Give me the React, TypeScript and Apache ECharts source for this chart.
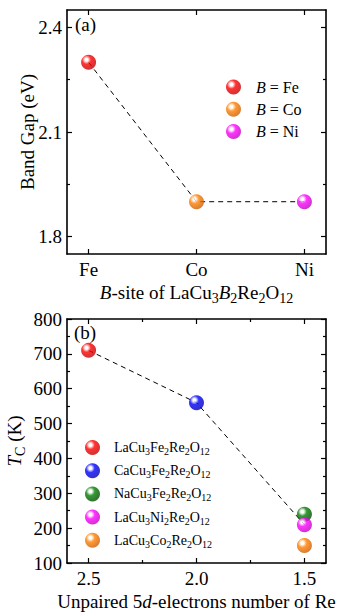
import React, { useEffect, useRef } from "react";
import * as echarts from "echarts";

const catsA = ["Fe", "Co", "Ni"];
const gapA = [2.3, 1.9, 1.9];
const namesA = ["B = Fe", "B = Co", "B = Ni"];
const colorsA = [["#ff0000", "#c00000"], ["#ff8000", "#cc5c00"], ["#ff00ff", "#c000c0"]];
const yTicksA = [1.8, 2.1, 2.4];
const yMinorA = [1.95, 2.25];

const xB = [2.5, 2.0, 1.5, 1.5, 1.5];
const tcB = [710, 560, 240, 210, 150];
const namesB = ["LaCu3Fe2Re2O12", "CaCu3Fe2Re2O12", "NaCu3Fe2Re2O12", "LaCu3Ni2Re2O12", "LaCu3Co2Re2O12"];
const colorsB = [["#ff0000", "#c00000"], ["#0000ff", "#0000b0"], ["#008000", "#004c00"], ["#ff00ff", "#c000c0"], ["#ff8000", "#cc5c00"]];
const lineIdxB = [0, 1, 3];
const xTicksB = [1.5, 2.0, 2.5];
const xMinorB = [1.75, 2.25];

const FONT = "Liberation Serif";

function ball(c: string[]) {
  return new echarts.graphic.RadialGradient(0.36, 0.33, 0.7, [
    { offset: 0, color: "#ffffff" },
    { offset: 0.14, color: "#ffffff" },
    { offset: 0.42, color: c[0] },
    { offset: 1, color: c[1] },
  ]);
}

const rich = (fs: number, lh?: number) => {
  const ss = Math.round(fs * 0.72);
  const sh = Math.round(fs * 0.3);
  return {
    i: { fontStyle: "italic", fontSize: fs, fontFamily: FONT, lineHeight: lh || fs, color: "#000" },
    n: { fontSize: fs, fontFamily: FONT, lineHeight: lh || fs, color: "#000" },
    s: { fontSize: ss, fontFamily: FONT, lineHeight: ss, padding: [sh, 0, -sh, 0], color: "#000" },
  };
};

export default function App() {
  const ref = useRef<HTMLDivElement>(null);
  useEffect(() => {
    document.body.style.margin = "0";
    const chart = echarts.init(ref.current!, null, { renderer: "svg" });
    const axisLine = { show: true, onZero: false, lineStyle: { color: "#000", width: 1.6 } };
    const noLine = { show: false, onZero: false };
    const tickStyle = { color: "#000", width: 1.2 };
    const labelFont = { fontFamily: FONT, fontSize: 19, color: "#000", rich: rich(19) };
    const wrap = (t: string) => `{n|${t}}`;
    const gridA = { left: 67, top: 10, width: 259, height: 244, outerBoundsMode: "none", containLabel: false };
    const gridB = { left: 67, top: 319, width: 259, height: 244, outerBoundsMode: "none", containLabel: false };

    const xAxA = (pos: string, labels: boolean) => ({
      gridIndex: 0, type: "value", min: -0.2, max: 2.2, position: pos,
      axisLine, splitLine: { show: false },
      axisTick: { show: true, inside: true, length: 5, lineStyle: tickStyle, customValues: [0, 1, 2] },
      axisLabel: labels
        ? { show: true, customValues: [0, 1, 2], margin: 6, ...labelFont, formatter: (v: number) => wrap(catsA[Math.round(v)]) }
        : { show: false },
    });
    const xAxB = (pos: string, labels: boolean, minor: boolean) => ({
      gridIndex: 1, type: "value", min: 1.4, max: 2.6, inverse: true, position: pos,
      axisLine: minor ? noLine : axisLine, splitLine: { show: false },
      axisTick: { show: true, inside: true, length: minor ? 3 : 5, lineStyle: tickStyle, customValues: minor ? xMinorB : xTicksB },
      axisLabel: labels
        ? { show: true, customValues: xTicksB, margin: 6, ...labelFont, formatter: (v: number) => wrap(v.toFixed(1)) }
        : { show: false },
    });
    const yAxA = (pos: string, labels: boolean, minor: boolean) => ({
      gridIndex: 0, type: "value", min: 1.75, max: 2.45, position: pos,
      axisLine: minor ? noLine : axisLine, splitLine: { show: false },
      axisTick: { show: true, inside: true, length: minor ? 3 : 5, lineStyle: tickStyle, customValues: minor ? yMinorA : yTicksA },
      axisLabel: labels
        ? { show: true, customValues: yTicksA, margin: 5, ...labelFont, formatter: (v: number) => wrap(v.toFixed(1)) }
        : { show: false },
    });
    const yAxB = (pos: string, labels: boolean) => ({
      gridIndex: 1, type: "value", min: 100, max: 800, interval: 100, position: pos,
      axisLine, splitLine: { show: false },
      axisTick: { show: true, inside: true, length: 5, lineStyle: tickStyle },
      minorTick: { show: true, splitNumber: 2, length: 3, lineStyle: tickStyle },
      minorSplitLine: { show: false },
      axisLabel: labels ? { show: true, margin: 5, ...labelFont, formatter: (v: number) => wrap(String(v)) } : { show: false },
    });

    const xAxis: any[] = [
      {
        ...xAxA("bottom", true),
        name: "{i|B}{n|-site of LaCu}{s|3}{i|B}{s|2}{n|Re}{s|2}{n|O}{s|12}",
        nameLocation: "middle", nameGap: 29, nameMoveOverlap: false,
        nameTextStyle: { fontFamily: FONT, fontSize: 19, rich: rich(19) },
      },
      xAxA("top", false),
      {
        ...xAxB("bottom", true, false),
        name: "{n|Unpaired 5}{i|d}{n|-electrons number of Re}",
        nameLocation: "middle", nameGap: 29, nameMoveOverlap: false,
        nameTextStyle: { fontFamily: FONT, fontSize: 19, rich: rich(19) },
      },
      xAxB("top", false, false),
      xAxB("bottom", false, true),
      xAxB("top", false, true),
    ];
    const yAxis: any[] = [
      {
        ...yAxA("left", true, false),
        name: "{n|Band Gap (eV)}", nameLocation: "middle", nameGap: 30, nameMoveOverlap: false,
        nameTextStyle: { fontFamily: FONT, fontSize: 19, color: "#000", rich: rich(19) },
      },
      yAxA("right", false, false),
      yAxA("left", false, true),
      yAxA("right", false, true),
      {
        ...yAxB("left", true),
        name: "{i|T}{s|C}{n| (K)}", nameLocation: "middle", nameGap: 43, nameMoveOverlap: false,
        nameTextStyle: { fontFamily: FONT, fontSize: 19, rich: rich(19) },
      },
      yAxB("right", false),
    ];

    const series: any[] = [
      {
        type: "line", xAxisIndex: 0, yAxisIndex: 0, silent: true, symbol: "none", z: 1,
        data: gapA.map((v, i) => [i, v]),
        lineStyle: { color: "#000", width: 1, type: [5, 4] },
      },
      ...gapA.map((v, i) => ({
        type: "scatter", name: namesA[i], xAxisIndex: 0, yAxisIndex: 0, z: 3,
        symbol: "circle", symbolSize: 15, data: [[i, v]],
        itemStyle: { color: ball(colorsA[i]) },
      })),
      {
        type: "line", xAxisIndex: 2, yAxisIndex: 4, silent: true, symbol: "none", z: 1,
        data: lineIdxB.map((k) => [xB[k], tcB[k]]),
        lineStyle: { color: "#000", width: 1, type: [5, 4] },
      },
      ...tcB.map((v, i) => ({
        type: "scatter", name: namesB[i], xAxisIndex: 2, yAxisIndex: 4, z: 3,
        symbol: "circle", symbolSize: 15, data: [[xB[i], v]],
        itemStyle: { color: ball(colorsB[i]) },
      })),
    ];

    const titleStyle = { fontFamily: FONT, fontSize: 19, fontWeight: "normal", color: "#000", rich: rich(19) };
    chart.setOption({
      animation: false,
      backgroundColor: "#fff",
      textStyle: { fontFamily: FONT },
      grid: [gridA, gridB],
      title: [
        { text: "{n|(a)}", left: 75, top: 15, padding: 0, textStyle: titleStyle },
        { text: "{n|(b)}", left: 74, top: 323, padding: 0, textStyle: titleStyle },
      ],
      legend: [
        {
          data: namesA, orient: "vertical", left: 226, top: 79, padding: 0,
          itemWidth: 15, itemHeight: 15, itemGap: 6.3, icon: "circle",
          formatter: (n: string) => n.replace(/^B/, "{i|B}{n|") + "}",
          textStyle: { fontFamily: FONT, fontSize: 16, lineHeight: 15, color: "#000", padding: [0, 0, 0, 10], rich: rich(16, 15) },
        },
        {
          data: namesB, orient: "vertical", left: 85, top: 440, padding: 0,
          itemWidth: 15, itemHeight: 15, itemGap: 6.7, icon: "circle",
          formatter: (n: string) => n.replace(/(\D+)/g, "{n|$1}").replace(/(\d+)/g, "{s|$1}"),
          textStyle: { fontFamily: FONT, fontSize: 14, lineHeight: 15, color: "#000", padding: [0, 0, 0, 9], rich: rich(14, 15) },
        },
      ],
      xAxis,
      yAxis,
      series,
    });
    return () => chart.dispose();
  }, []);
  return <div ref={ref} style={{ width: 339, height: 616 }} />;
}
